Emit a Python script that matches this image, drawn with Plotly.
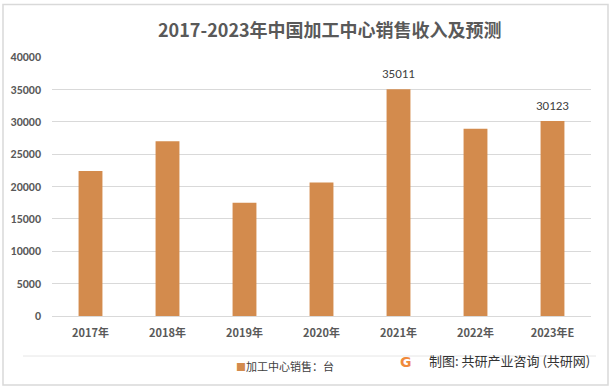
import plotly.graph_objects as go

categories = ["2017年", "2018年", "2019年", "2020年", "2021年", "2022年", "2023年E"]
sales = [22400, 27000, 17500, 20600, 35011, 28900, 30123]
labeled = ["2021年", "2023年E"]
y_ticks = [0, 5000, 10000, 15000, 20000, 25000, 30000, 35000, 40000]
series_name = "加工中心销售：台"

W, H = 615, 390
L, R, T, B = 52, 24, 57, 74
pw, ph = W - L - R, H - T - B

def px(x):
    return (x - L) / pw

def py(y):
    return (H - B - y) / ph

font_main = "Noto Sans CJK SC, Microsoft YaHei, sans-serif"
font_num = "Carlito, Calibri, Liberation Sans, sans-serif"
bar_color = "#D38B4D"

fig = go.Figure()
fig.add_trace(go.Bar(
    x=categories, y=sales, name=series_name,
    marker=dict(color=bar_color, line=dict(width=0)),
    width=0.31, showlegend=False,
))

for c, v in zip(categories, sales):
    if c in labeled:
        fig.add_annotation(x=c, y=v, text=str(v), showarrow=False, yanchor="bottom",
                           yshift=6, font=dict(size=13, color="#404040", family=font_num))

fig.add_annotation(xref="paper", yref="paper", x=px(330), y=py(29), yanchor="middle",
                   text="<b>2017-2023年中国加工中心销售收入及预测</b>",
                   showarrow=False, font=dict(size=18, color="#595959", family=font_main))

# legend (as annotation)
fig.add_annotation(xref="paper", yref="paper", x=px(234), y=py(366), xanchor="left", yanchor="middle",
                   text="<span style='color:%s;font-size:10px'>■</span>%s" % (bar_color, series_name),
                   showarrow=False, font=dict(size=11, color="#404040", family=font_main))

# watermark
fig.add_annotation(xref="paper", yref="paper", x=px(414), y=py(372), text="<b>G</b>",
                   showarrow=False, font=dict(size=14, color="#F08A3C", family="DejaVu Sans"))
fig.add_annotation(xref="paper", yref="paper", x=px(427), y=py(372), xanchor="left", text="制图: 共研产业咨询 (共研网)",
                   showarrow=False, font=dict(size=13, color="#333333", family=font_main))

# border and separator
fig.add_shape(type="rect", xref="paper", yref="paper", x0=px(3), x1=px(608), y0=py(385), y1=py(4.5),
              line=dict(color="#D9D9D9", width=1.5), layer="below")
fig.add_shape(type="line", xref="paper", yref="paper", x0=px(23), x1=px(596), y0=py(356), y1=py(356),
              line=dict(color="#E6E6E6", width=1), layer="below")

fig.update_layout(
    width=W, height=H,
    margin=dict(l=L, r=R, t=T, b=B, autoexpand=False),
    paper_bgcolor="white", plot_bgcolor="white",
    showlegend=False,
    font=dict(family=font_main, color="#595959"),
    xaxis=dict(showgrid=False, showline=True, linecolor="#D9D9D9", linewidth=1, ticks="",
               tickvals=categories, ticktext=["<b>%s</b>" % c for c in categories], automargin=False,
               tickfont=dict(size=11, color="#595959", family=font_main), ticklabelstandoff=7),
    yaxis=dict(range=[0, 40000], tickvals=y_ticks, ticktext=["<b>%d</b>" % t for t in y_ticks],
               showgrid=True, gridcolor="#D9D9D9", gridwidth=1, automargin=False,
               zeroline=False, showline=False, ticks="",
               tickfont=dict(size=12, color="#595959", family=font_num),
               ticklabelstandoff=10),
)

fig.write_html("out.html", config={"displayModeBar": False},
               post_script="document.body.style.margin='0';document.body.style.overflow='hidden';")
